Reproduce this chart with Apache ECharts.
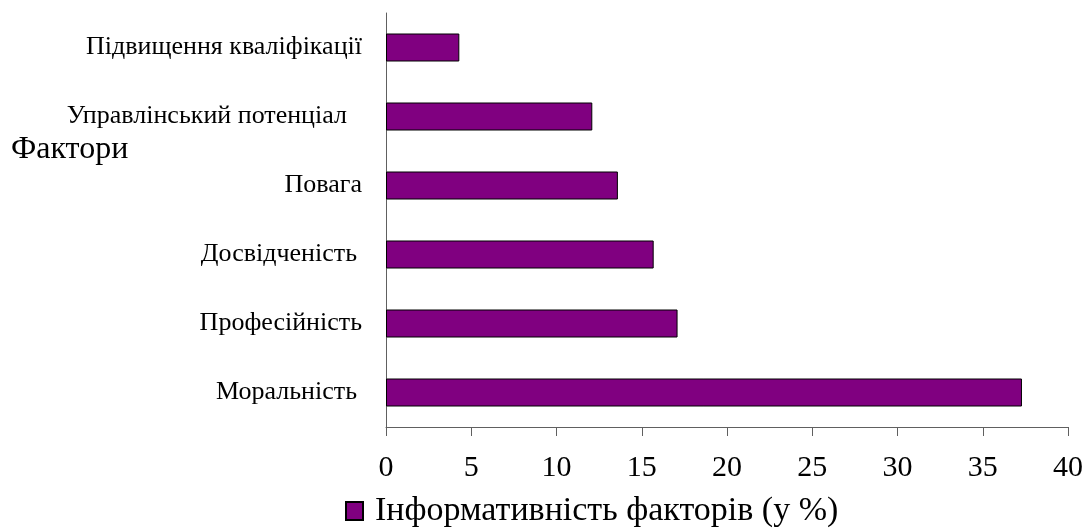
<!DOCTYPE html>
<html>
<head>
<meta charset="utf-8">
<script src="https://cdn.jsdelivr.net/npm/echarts@6/dist/echarts.min.js"></script>
<style>
  html, body { margin: 0; padding: 0; background: #fff; }
  #main { width: 1087px; height: 529px; }
</style>
</head>
<body>
<div id="main"></div>
<script>
// категорії знизу вгору
var factors = ["Моральність", "Професійність", "Досвідченість", "Повага", "Управлінський потенціал", "Підвищення кваліфікації"];
var infoValues = [37.3, 17.1, 15.7, 13.6, 12.1, 4.3];
var seriesName = "Інформативність факторів (у %)";
var axisTitle = "Фактори";

var serif = "'Liberation Serif', 'DejaVu Serif', serif";

// невеликий відступ праворуч для деяких підписів (як у оригіналі)
var padStyle = { "Управлінський потенціал" : "p15", "Досвідченість" : "p5", "Моральність" : "p5" };

var myChart = echarts.init(document.getElementById("main"));

var option = {
    animation : false,
    backgroundColor : "#fff",

    title : {
        text : axisTitle,
        left : 11,
        top : 134,
        padding : 0,
        textStyle : { fontFamily : serif, fontSize : 32, fontWeight : "normal", color : "#000" }
    },

    legend : {
        data : [{ name : seriesName, icon : "rect" }],
        left : 340,
        top : 489,
        itemWidth : 17,
        itemHeight : 18,
        textStyle : { fontFamily : serif, fontSize : 34, color : "#000", padding : [0, 0, 0, 7] }
    },

    grid : { left : 386, right : 19, top : 13, bottom : 102 },

    xAxis : {
        type : "value",
        min : 0,
        max : 40,
        interval : 5,
        axisLine : { show : true, lineStyle : { color : "#606060", width : 1 } },
        axisTick : { show : true, length : 9, lineStyle : { color : "#606060" } },
        splitLine : { show : false },
        axisLabel : { margin : 26, fontFamily : serif, fontSize : 30, color : "#000" }
    },

    yAxis : {
        type : "category",
        data : factors,
        axisLine : { show : true, lineStyle : { color : "#606060", width : 1 } },
        axisTick : { show : false },
        axisLabel : {
            margin : 24,
            fontFamily : serif,
            fontSize : 26,
            color : "#000",
            formatter : function(value){
                var key = padStyle[value] || "p0";
                return "{" + key + "|" + value + "}";
            },
            rich : {
                p0 : { fontFamily : serif, fontSize : 26, color : "#000" },
                p5 : { fontFamily : serif, fontSize : 26, color : "#000", padding : [0, 5, 0, 0] },
                p15 : { fontFamily : serif, fontSize : 26, color : "#000", padding : [0, 15, 0, 0] }
            }
        }
    },

    series : [
        {
            name : seriesName,
            type : "bar",
            data : infoValues,
            barWidth : 28,
            itemStyle : { color : "#800080", borderColor : "#000", borderWidth : 1 }
        }
    ]
};

myChart.setOption(option);
</script>
</body>
</html>
